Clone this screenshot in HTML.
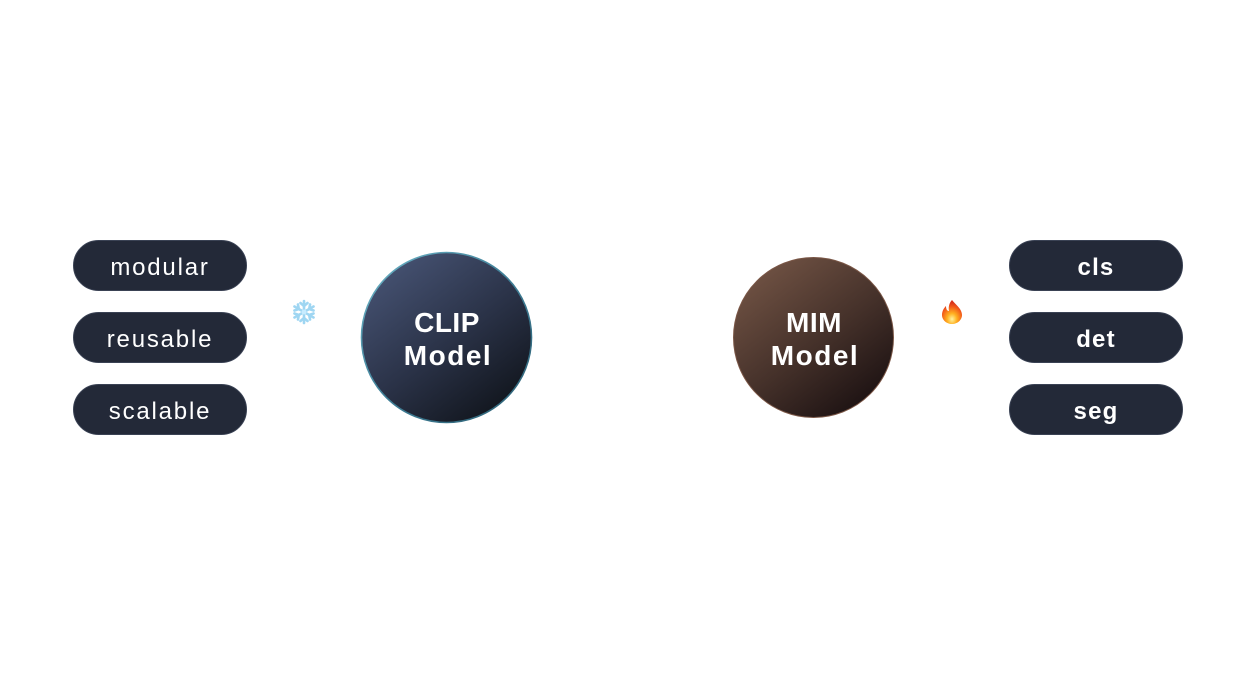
<!DOCTYPE html>
<html>
<head>
<meta charset="utf-8">
<style>
  html,body{margin:0;padding:0;background:#ffffff;}
  body{width:1256px;height:680px;overflow:hidden;position:relative;}
  svg{position:absolute;left:0;top:0;}
</style>
</head>
<body>
<svg width="1256" height="680" viewBox="0 0 1256 680" xmlns="http://www.w3.org/2000/svg">
  <defs>
    <linearGradient id="clipFill" x1="0.2" y1="0.1" x2="0.85" y2="0.95">
      <stop offset="0" stop-color="#434f6e"/>
      <stop offset="0.5" stop-color="#2a3247"/>
      <stop offset="1" stop-color="#10141b"/>
    </linearGradient>
    <linearGradient id="clipStroke" x1="0" y1="0" x2="1" y2="1">
      <stop offset="0" stop-color="#6fb6c9"/>
      <stop offset="0.5" stop-color="#3f7f97"/>
      <stop offset="1" stop-color="#2d5f73"/>
    </linearGradient>
    <linearGradient id="mimFill" x1="0.2" y1="0.1" x2="0.85" y2="0.95">
      <stop offset="0" stop-color="#6c4f41"/>
      <stop offset="0.5" stop-color="#45312a"/>
      <stop offset="1" stop-color="#1a1011"/>
    </linearGradient>
    <radialGradient id="fireG" cx="0.5" cy="0.8" r="0.7">
      <stop offset="0" stop-color="#fff3a0"/>
      <stop offset="0.35" stop-color="#ffb020"/>
      <stop offset="0.75" stop-color="#f25a1a"/>
      <stop offset="1" stop-color="#d8321c"/>
    </radialGradient>
  </defs>

  <!-- Left pills -->
  <g font-family="Liberation Sans, DejaVu Sans, sans-serif" font-size="24" fill="#ffffff" text-anchor="middle" letter-spacing="1.8">
    <rect x="73.5" y="240.5" width="173" height="50" rx="25" fill="#232938" stroke="#3a4254" stroke-width="1"/>
    <text x="160" y="275">modular</text>
    <rect x="73.5" y="312.5" width="173" height="50" rx="25" fill="#232938" stroke="#3a4254" stroke-width="1"/>
    <text x="160" y="347">reusable</text>
    <rect x="73.5" y="384.5" width="173" height="50" rx="25" fill="#232938" stroke="#3a4254" stroke-width="1"/>
    <text x="160" y="419">scalable</text>
  </g>

  <!-- Right pills -->
  <g font-family="Liberation Sans, DejaVu Sans, sans-serif" font-size="24" font-weight="bold" fill="#ffffff" text-anchor="middle" letter-spacing="1.2">
    <rect x="1009.5" y="240.5" width="173" height="50" rx="25" fill="#232938" stroke="#3a4254" stroke-width="1"/>
    <text x="1096" y="275">cls</text>
    <rect x="1009.5" y="312.5" width="173" height="50" rx="25" fill="#232938" stroke="#3a4254" stroke-width="1"/>
    <text x="1096" y="347">det</text>
    <rect x="1009.5" y="384.5" width="173" height="50" rx="25" fill="#232938" stroke="#3a4254" stroke-width="1"/>
    <text x="1096" y="419">seg</text>
  </g>

  <!-- CLIP circle -->
  <circle cx="446.5" cy="337.5" r="85" fill="url(#clipFill)" stroke="url(#clipStroke)" stroke-width="1.6"/>
  <g font-family="Liberation Sans, DejaVu Sans, sans-serif" font-size="28" font-weight="bold" fill="#ffffff" text-anchor="middle">
    <text x="447" y="332" letter-spacing="0.5">CLIP</text>
    <text x="448" y="365" letter-spacing="1.5">Model</text>
  </g>

  <!-- MIM circle -->
  <circle cx="813.5" cy="337.5" r="80" fill="url(#mimFill)" stroke="#7a5646" stroke-width="1"/>
  <g font-family="Liberation Sans, DejaVu Sans, sans-serif" font-size="28" font-weight="bold" fill="#ffffff" text-anchor="middle">
    <text x="814" y="332" letter-spacing="0.5">MIM</text>
    <text x="815" y="365" letter-spacing="1.5">Model</text>
  </g>

  <!-- Snowflake -->
  <g transform="translate(304,312)" stroke="#9fd6f2" stroke-width="2.6" stroke-linecap="round" fill="none">
    <g id="arm">
      <line x1="0" y1="0" x2="0" y2="-11"/>
      <polyline points="-3.5,-9 0,-6 3.5,-9"/>
    </g>
    <use href="#arm" transform="rotate(60)"/>
    <use href="#arm" transform="rotate(120)"/>
    <use href="#arm" transform="rotate(180)"/>
    <use href="#arm" transform="rotate(240)"/>
    <use href="#arm" transform="rotate(300)"/>
    <circle cx="0" cy="0" r="2.5" fill="#c8ecff" stroke="none"/>
  </g>

  <!-- Fire -->
  <path d="M952 300 C956 305 962 309 962 315 C962 320 957.5 324 952 324 C946.5 324 942 320 942 315 C942 311 944 308 946 306 C946 309 947 311 949 311 C948 306 950 302 952 300 Z" fill="url(#fireG)"/>
</svg>
</body>
</html>
